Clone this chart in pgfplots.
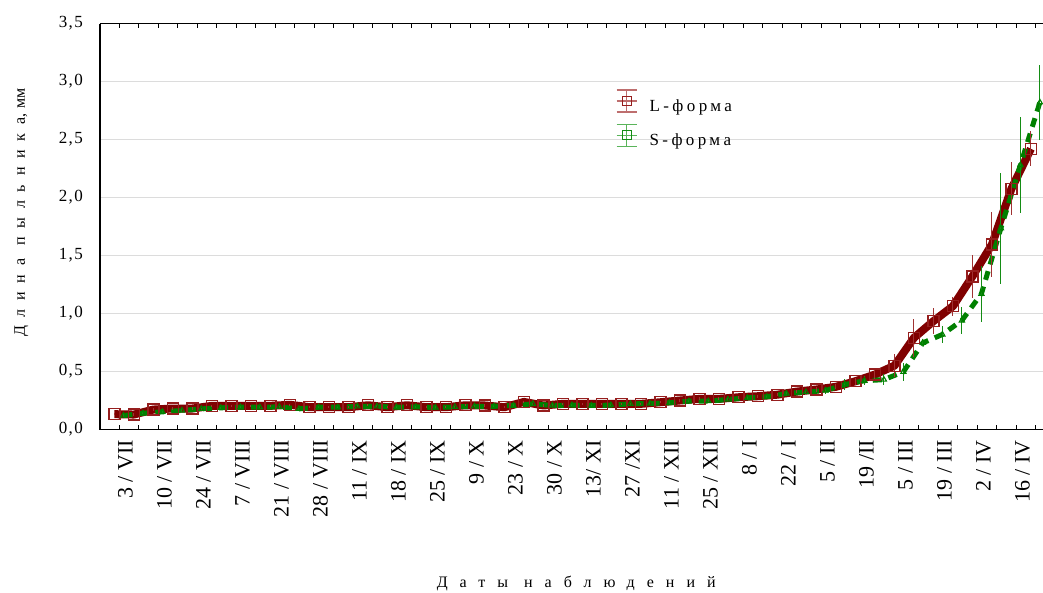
\documentclass[border=0pt]{standalone}
\usepackage{fontspec}
\setmainfont{Liberation Serif}
\newfontfamily\spacedfont[LetterSpace=75]{Liberation Serif}
\newfontfamily\yspacedfont[LetterSpace=55]{Liberation Serif}
\newfontfamily\legfont[LetterSpace=20]{Liberation Serif}
\newfontfamily\tickfont[LetterSpace=8]{Liberation Serif}
\usepackage{pgfplots}
\usepackage{pgfplotstable}
\pgfplotsset{compat=1.18}
\definecolor{lline}{RGB}{128,0,0}
\definecolor{lsq}{RGB}{150,30,30}
\definecolor{lbar}{RGB}{160,50,50}
\definecolor{lleg}{RGB}{190,110,110}
\definecolor{sline}{RGB}{0,128,0}
\definecolor{sbar}{RGB}{20,140,20}
\definecolor{sleg}{RGB}{90,180,90}
\definecolor{gridgrey}{RGB}{220,220,220}

\pgfplotstableread{
k L Lerr S Serr
1 0.132 0.010 0.120 0.010
2 0.129 0.010 0.140 0.010
3 0.172 0.010 0.152 0.010
4 0.181 0.010 0.164 0.010
5 0.181 0.010 0.178 0.010
6 0.204 0.010 0.187 0.010
7 0.204 0.010 0.192 0.010
8 0.204 0.010 0.192 0.010
9 0.204 0.010 0.195 0.010
10 0.213 0.010 0.178 0.010
11 0.192 0.010 0.192 0.010
12 0.192 0.010 0.192 0.010
13 0.192 0.010 0.200 0.010
14 0.209 0.010 0.200 0.010
15 0.192 0.010 0.192 0.010
16 0.209 0.010 0.195 0.010
17 0.192 0.010 0.190 0.010
18 0.192 0.010 0.195 0.010
19 0.209 0.010 0.200 0.010
20 0.207 0.010 0.200 0.010
21 0.192 0.010 0.207 0.010
22 0.238 0.012 0.221 0.010
23 0.207 0.010 0.207 0.010
24 0.221 0.010 0.210 0.010
25 0.221 0.010 0.207 0.010
26 0.221 0.010 0.210 0.010
27 0.221 0.010 0.221 0.010
28 0.221 0.010 0.224 0.012
29 0.235 0.010 0.230 0.012
30 0.250 0.010 0.244 0.012
31 0.264 0.012 0.244 0.012
32 0.264 0.012 0.259 0.012
33 0.278 0.012 0.273 0.015
34 0.287 0.012 0.282 0.015
35 0.300 0.015 0.310 0.020
36 0.327 0.015 0.322 0.020
37 0.345 0.020 0.336 0.030
38 0.368 0.020 0.388 0.050
39 0.416 0.030 0.420 0.040
40 0.474 0.050 0.430 0.045
41 0.550 0.100 0.497 0.080
42 0.790 0.165 0.747 0.030
43 0.934 0.115 0.819 0.070
44 1.063 0.083 0.940 0.120
45 1.320 0.185 1.170 0.240
46 1.595 0.280 1.735 0.480
47 2.075 0.230 2.280 0.410
48 2.420 0.150 2.820 0.320
}\data

\begin{document}
\begin{tikzpicture}
\begin{axis}[
  scale only axis,
  width=943bp, height=406bp,
  xmin=0, xmax=48.36,
  ymin=0, ymax=3.5,
  axis y line*=left,
  axis line style={line width=1.2bp, black},
  xtick={1,...,48},
  xticklabels={3 / VII,,10 / VII,,24 / VII,,7 / VIII,,21 / VIII,,28 / VIII,,11 / IX,,18 / IX,,25 / IX,,9 / X,,23 / X,,30 / X,,13/ XI,,27 /XI,,11 / XII,,25 / XII,,8 / I,,22 / I,,5 / II,,19 /II,,5 / III,,19 / III,,2 / IV,,16 / IV,},
  major tick length=4.5bp,
  xtick style={line width=1bp, black},
  ytick={0,0.5,...,3.5},
  ytick style={draw=none},
  ymajorgrids,
  grid style={gridgrey, line width=1bp},
  xticklabel style={font=\fontsize{22bp}{24bp}\selectfont, xshift=6bp, yshift=-10.5bp, rotate=90, anchor=east, inner sep=0pt},
  yticklabel style={font=\tickfont\fontsize{17bp}{20bp}\selectfont, anchor=east, inner sep=0pt, xshift=-17bp,
    /pgf/number format/.cd, fixed, fixed zerofill, precision=1, use comma, assume math mode=true},
  every axis y label/.style={at={(axis description cs:-0.0835,0.534)}, anchor=center, rotate=90},
  every axis x label/.style={at={(axis description cs:0.505,0)}, anchor=base, yshift=-157.5bp},
  ylabel={\fontsize{16bp}{18bp}\selectfont{\yspacedfont Длина пыльника},\hspace{5bp}мм},
  xlabel={\spacedfont\fontsize{16bp}{18bp}\selectfont Даты наблюдений},
  legend style={at={(axis description cs:0.547,0.838)}, anchor=north west, draw=none, fill=none,
    font=\legfont\fontsize{17bp}{20bp}\selectfont, row sep=9bp, inner sep=0pt},
  legend cell align=left,
]
\addplot[lline, line width=8bp, line join=round, forget plot] table[x expr=\thisrow{k}-0.26, y=L]{\data};
\addplot[sline, line width=5bp, dash pattern=on 9bp off 7bp, forget plot] table[x expr=\thisrow{k}+0.2, y=S]{\data};
\addplot[only marks, mark=square, mark size=5.5bp, mark options={draw=lsq, line width=1.3bp, fill=none}, forget plot,
  error bars/.cd, y dir=both, y explicit, error mark=none, error bar style={lbar, line width=1.1bp}]
  table[x expr=\thisrow{k}-0.26, y=L, y error=Lerr]{\data};
\addplot[only marks, mark=triangle, mark size=3bp, mark options={draw=sline, line width=1.1bp, fill=none}, forget plot,
  error bars/.cd, y dir=both, y explicit, error mark=none, error bar style={sbar, line width=1.1bp}]
  table[x expr=\thisrow{k}+0.2, y=S, y error=Serr]{\data};
\addlegendimage{legend image code/.code={
  \path[draw=none, fill=none] (0bp,5bp) -- (31bp,5bp);
  \draw[draw=lleg, line width=1.2bp] (10bp,-6bp)--(10bp,16bp) (0bp,-6bp)--(20bp,-6bp) (0bp,16bp)--(20bp,16bp) (0bp,5bp)--(20bp,5bp);
  \draw[draw=lsq, line width=1.2bp] (5.5bp,0.5bp) rectangle (14.5bp,9.5bp);}}
\addlegendentry{L-форма}
\addlegendimage{legend image code/.code={
  \path[draw=none, fill=none] (0bp,5bp) -- (31bp,5bp);
  \draw[draw=sleg, line width=1.2bp] (10bp,-6bp)--(10bp,16bp) (0bp,-6bp)--(20bp,-6bp) (0bp,16bp)--(20bp,16bp) (0bp,5bp)--(20bp,5bp);
  \draw[draw=sbar, line width=1.2bp] (5.5bp,0.5bp) rectangle (14.5bp,9.5bp);}}
\addlegendentry{S-форма}
\end{axis}
\pgfresetboundingbox
\useasboundingbox ([xshift=-100bp,yshift=-163.5bp]current axis.south west) rectangle ([yshift=23.5bp]current axis.north east);
\end{tikzpicture}
\end{document}
